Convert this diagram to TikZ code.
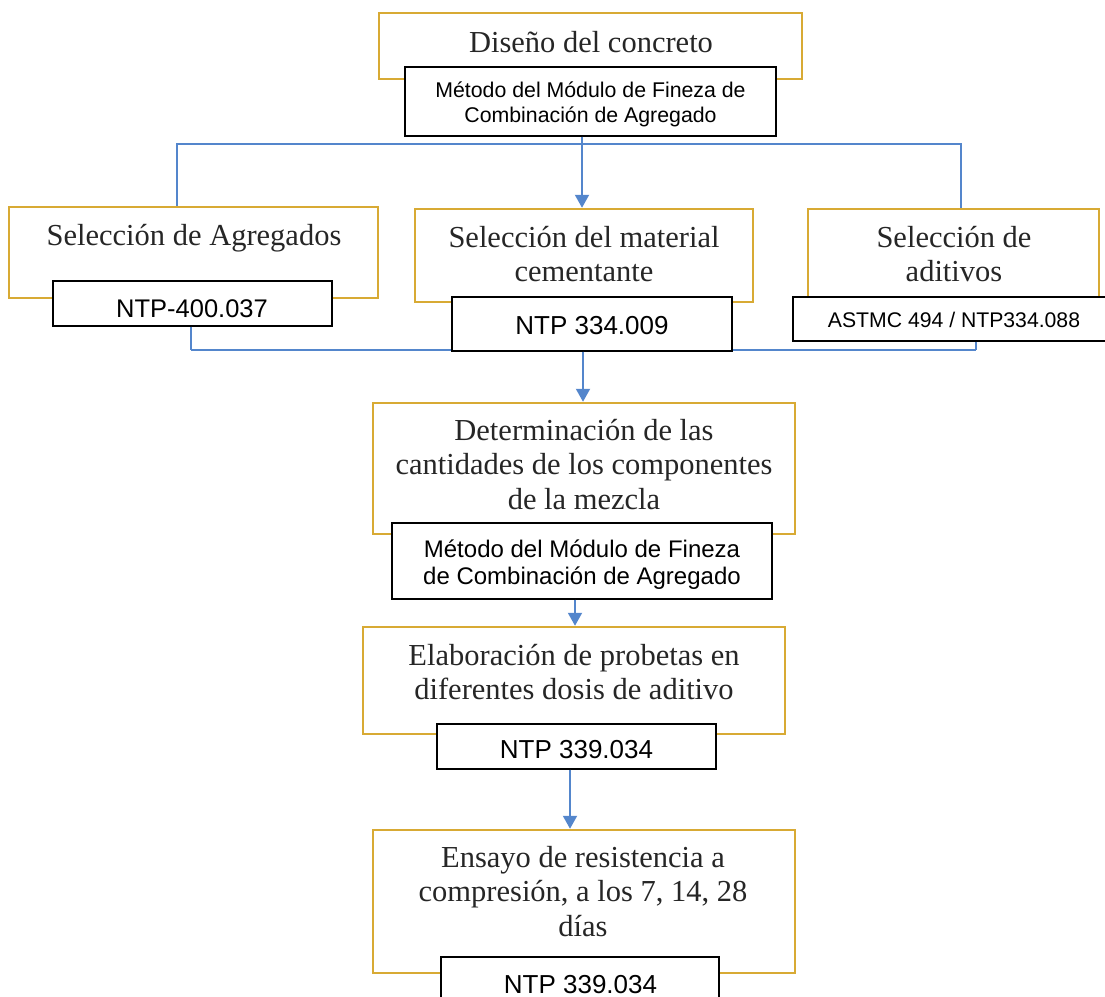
\documentclass[tikz,border=0pt]{standalone}
\usepackage{fontspec}
\setmainfont{Liberation Serif}
\newfontfamily\arialf{Liberation Sans}
\usetikzlibrary{arrows.meta}
\definecolor{goldc}{RGB}{216,170,52}
\definecolor{bluec}{RGB}{84,134,204}
\tikzset{
  goldbox/.style={draw=goldc, line width=2.5pt, fill=white, inner sep=0pt},
  labbox/.style={draw=black, line width=1.2pt, fill=white, inner sep=0pt},
  sertext/.style={anchor=north, inner sep=0pt, align=center, font=\fontsize{30.5}{34.5}\selectfont, text=black!85},
  santext/.style={inner sep=0pt, align=center, text=black},
  bline/.style={draw=bluec, line width=2pt},
  barrow/.style={draw=bluec, line width=2pt, -{Triangle[width=14pt,length=13pt]}, fill=bluec}
}
\begin{document}
\begin{tikzpicture}[x=1pt,y=-1pt]
\useasboundingbox (0,0) rectangle (1105,996);
\clip (0,0) rectangle (1105,996);
% gold boxes
\node[goldbox, minimum width=423pt, minimum height=66pt] (b1) at (590.5,46) {};
\node[goldbox, minimum width=369pt, minimum height=91pt] (b2) at (193.5,252.5) {};
\node[goldbox, minimum width=338pt, minimum height=93pt] (b3) at (584,255.5) {};
\node[goldbox, minimum width=291pt, minimum height=96pt] (b4) at (953.5,257) {};
\node[goldbox, minimum width=422pt, minimum height=131pt] (b5) at (584,468.5) {};
\node[goldbox, minimum width=422pt, minimum height=107pt] (b6) at (574,680.5) {};
\node[goldbox, minimum width=422pt, minimum height=143pt] (b7) at (584,901.5) {};
% gold box texts
\node[sertext] (t1) at (591,31) {Diseño del concreto};
\node[sertext] (t2) at (194,224) {Selección de Agregados};
\node[sertext] (t3) at (584,226) {Selección del material\\cementante};
\node[sertext] (t4) at (954,226) {Selección de\\aditivos};
\node[sertext] (t5) at (584,419) {Determinación de las\\cantidades de los componentes\\de la mezcla};
\node[sertext] (t6) at (574,644) {Elaboración de probetas en\\diferentes dosis de aditivo};
\node[sertext] (t7) at (583,846) {Ensayo de resistencia a\\compresión, a los 7, 14, 28\\días};
% coordinates for tree lines
\coordinate (tl) at (177,144);
\coordinate (tr) at (961,144);
\coordinate (bl) at (191,350);
\coordinate (br) at (976,350);
% label boxes
\node[labbox, minimum width=371pt, minimum height=69pt] (l1) at (590.5,101.5) {};
% blue lines (top tree)
\draw[bline] (tl |- b2.north) -- (tl) -- (tr) -- (tr |- b4.north);
\draw[barrow] (582,0 |- l1.south) -- (582,0 |- b3.north);
% lower labels
\draw[bline] (bl) -- (br);
\node[labbox, minimum width=279pt, minimum height=45pt] (l2) at (192.5,303.5) {};
\node[labbox, minimum width=280pt, minimum height=54pt] (l3) at (592,324) {};
\node[labbox, minimum width=322pt, minimum height=44pt] (l4) at (954,319) {};
\draw[bline] (l2.south -| bl) -- (bl);
\draw[bline] (l4.south -| br) -- (br);
\draw[barrow] (583,0 |- l3.south) -- (583,0 |- b5.north);
\node[labbox, minimum width=380pt, minimum height=76pt] (l5) at (582,561) {};
\draw[barrow] (575,0 |- l5.south) -- (575,0 |- b6.north);
\node[labbox, minimum width=279pt, minimum height=45pt] (l6) at (576.5,746.5) {};
\draw[barrow] (570,0 |- l6.south) -- (570,0 |- b7.north);
\node[labbox, minimum width=278pt, minimum height=53pt] (l7) at (580,983.5) {};
% label texts
\node[santext, anchor=north, font=\arialf\fontsize{21.3}{25}\selectfont] (s1) at (590.5,81.5) {Método del Módulo de Fineza de\\Combinación de Agregado};
\node[santext, anchor=base, font=\arialf\fontsize{25.5}{30}\selectfont] (s2) at (192,317) {NTP-400.037};
\node[santext, anchor=base, font=\arialf\fontsize{26}{30}\selectfont] (s3) at (592,334) {NTP 334.009};
\node[santext, anchor=base, font=\arialf\fontsize{21.2}{25}\selectfont] (s4) at (954,327) {ASTMC 494 / NTP334.088};
\node[santext, anchor=north, font=\arialf\fontsize{24}{27}\selectfont] (s5) at (582,540) {Método del Módulo de Fineza\\de Combinación de Agregado};
\node[santext, anchor=base, font=\arialf\fontsize{26}{30}\selectfont] (s6) at (576.5,758) {NTP 339.034};
\node[santext, anchor=base, font=\arialf\fontsize{26}{30}\selectfont] (s7) at (580.5,993) {NTP 339.034};
\end{tikzpicture}
\end{document}
